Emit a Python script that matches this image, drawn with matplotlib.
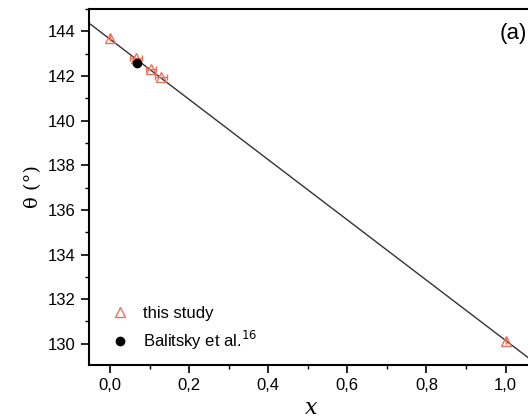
import matplotlib.pyplot as plt
from matplotlib.lines import Line2D
from matplotlib.ticker import MultipleLocator, FuncFormatter

# this study (x, theta, x error)
study_x = [0.0, 0.065, 0.104, 0.129, 1.0]
study_theta = [143.72, 142.80, 142.32, 141.95, 130.13]
study_xerr = [0.0, 0.015, 0.012, 0.016, 0.0]

# Balitsky et al.
bal_x = [0.069]
bal_theta = [142.6]

# linear fit end points
fit_x = [-0.06, 1.06]
fit_theta = [144.46, 129.34]

red = '#e8735a'

plt.rcParams['font.family'] = ['Liberation Sans', 'DejaVu Sans']
fig = plt.figure(figsize=(5.28, 4.2), dpi=100)
ax = fig.add_axes([89 / 528, 55 / 420, 1 - 89 / 528 + 0.01, 356 / 420])

ax.plot(fit_x, fit_theta, color='#333333', lw=1.0, zorder=1)
ax.errorbar(study_x, study_theta, xerr=study_xerr, fmt='^', mfc='none',
            mec=red, ecolor=red, ms=7, mew=1.0, elinewidth=1.0, capsize=2,
            zorder=3)
ax.plot(bal_x, bal_theta, 'o', color='black', ms=6, ls='none', zorder=4)

ax.set_xlim(-0.053, 1.07)
ax.set_ylim(129.05, 145.0)

ax.xaxis.set_major_locator(MultipleLocator(0.2))
ax.xaxis.set_minor_locator(MultipleLocator(0.1))
ax.yaxis.set_major_locator(MultipleLocator(2))
ax.yaxis.set_minor_locator(MultipleLocator(1))
ax.xaxis.set_major_formatter(FuncFormatter(lambda v, p: f'{v:.1f}'.replace('.', ',')))
ax.yaxis.set_major_formatter(FuncFormatter(lambda v, p: f'{v:.0f}'))

ax.tick_params(which='major', direction='out', length=6, width=1.2, labelsize=12)
ax.tick_params(which='minor', direction='out', length=3, width=1.0)
ax.tick_params(top=False, right=False)
for s in ['left', 'bottom', 'top']:
    ax.spines[s].set_linewidth(1.5)
ax.spines['right'].set_visible(False)

ax.set_ylabel('θ (°)', family='DejaVu Serif', fontsize=14, labelpad=4)
ax.set_xlabel('x', family='DejaVu Serif', style='italic', fontsize=16, labelpad=3)

handles = [
    Line2D([], [], marker='^', mfc='none', mec=red, mew=1.0, ms=7, ls='none'),
    Line2D([], [], marker='o', color='black', ms=6, ls='none'),
]
labels = ['this study', 'Balitsky et al.$^{16}$']
ax.legend(handles, labels, loc='lower left', frameon=False, fontsize=12,
          handlelength=1.0, handletextpad=0.9, labelspacing=0.45,
          bbox_to_anchor=(0.02, 0.0), borderaxespad=0.4)

ax.text(0.985, 0.93, '(a)', transform=ax.transAxes, fontsize=16,
        ha='right', va='center')

fig.savefig('out.png', dpi=100)
